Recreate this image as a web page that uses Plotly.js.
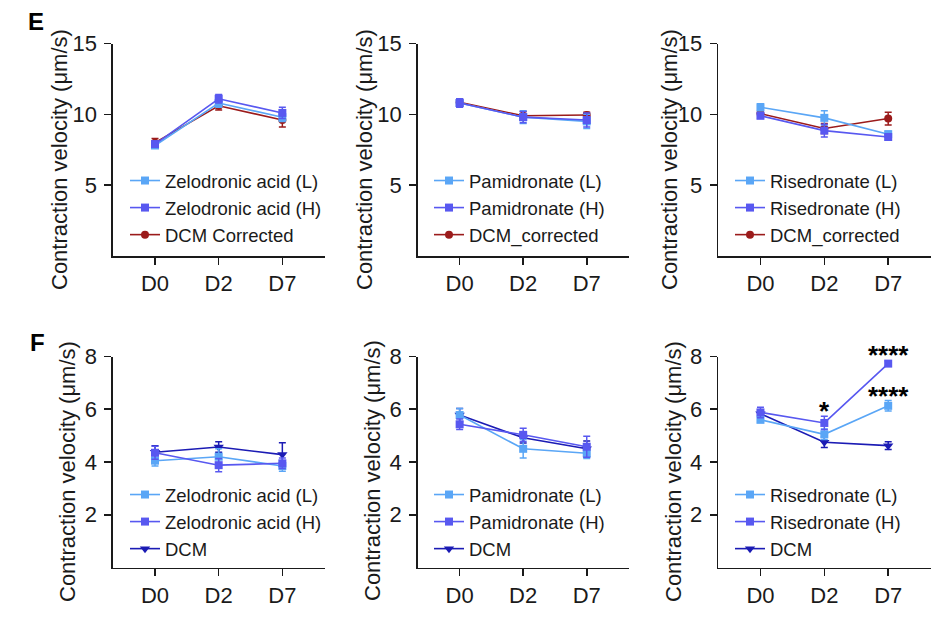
<!DOCTYPE html>
<html>
<head>
<meta charset="utf-8">
<script src="https://cdn.plot.ly/plotly-3.0.1.min.js"></script>
<style>html,body{margin:0;padding:0;background:#fff;}#chart{width:948px;height:620px;}</style>
</head>
<body>
<div id="chart"></div>
<script>
// ---------- data ----------
const days = ["D0", "D2", "D7"];

// Panel E (top row) – corrected values
const eZelL = [7.8, 10.8, 9.8];      const eZelLErr = [0.2, 0.3, 0.3];
const eZelH = [7.9, 11.1, 10.1];     const eZelHErr = [0.2, 0.3, 0.4];
const eZelDCM = [8.0, 10.6, 9.6];    const eZelDCMErr = [0.3, 0.3, 0.5];

const ePamL = [10.8, 9.8, 9.5];      const ePamLErr = [0.3, 0.45, 0.5];
const ePamH = [10.8, 9.8, 9.6];      const ePamHErr = [0.3, 0.4, 0.5];
const ePamDCM = [10.85, 9.9, 9.95];  const ePamDCMErr = [0.25, 0.3, 0.2];

const eRisL = [10.5, 9.75, 8.6];     const eRisLErr = [0.25, 0.5, 0.2];
const eRisH = [9.9, 8.85, 8.4];      const eRisHErr = [0.2, 0.45, 0.2];
const eRisDCM = [10.05, 9.0, 9.7];   const eRisDCMErr = [0.2, 0.35, 0.45];

// Panel F (bottom row)
const fZelL = [4.05, 4.2, 3.85];     const fZelLErr = [0.2, 0.3, 0.2];
const fZelH = [4.35, 3.88, 3.95];    const fZelHErr = [0.25, 0.25, 0.2];
const fZelDCM = [4.37, 4.57, 4.28];  const fZelDCMErr = [0.25, 0.2, 0.45];

const fPamL = [5.78, 4.5, 4.33];     const fPamLErr = [0.25, 0.35, 0.2];
const fPamH = [5.43, 5.03, 4.58];    const fPamHErr = [0.2, 0.25, 0.4];
const fPamDCM = [5.78, 4.92, 4.5];   const fPamDCMErr = [0.25, 0.2, 0.3];

const fRisL = [5.6, 5.05, 6.13];     const fRisLErr = [0.1, 0.2, 0.2];
const fRisH = [5.88, 5.48, 7.73];    const fRisHErr = [0.2, 0.25, 0.1];
const fRisDCM = [5.83, 4.75, 4.62];  const fRisDCMErr = [0.15, 0.2, 0.15];

const topTicks = [5, 10, 15];
const bottomTicks = [2, 4, 6, 8];
const yTitle = "Contraction velocity (μm/s)";

// significance marks (F, Risedronate)
const sigText = ["*", "****", "****"];
const sigDay = ["D2", "D7", "D7"];
const sigY = [5.95, 8.05, 6.51];

// ---------- styling ----------
const FONT = "Liberation Sans, Arial, Helvetica, sans-serif";
const cLight = "#5aa6f6";
const cMid = "#5858f0";
const cRed = "#9b1b1b";
const cNavy = "#1b1bb4";

function tr(name, y, err, color, symbol, n, rank, msize) {
  const ax = n === 1 ? "" : String(n);
  return {
    type: "scatter", mode: "lines+markers",
    x: days, y: y, name: name,
    xaxis: "x" + ax, yaxis: "y" + ax,
    legend: "legend" + ax, legendrank: rank, legendgroup: "g" + n + "_" + rank,
    line: {color: color, width: 1.6},
    marker: {color: color, symbol: symbol, size: msize},
    error_y: {type: "data", array: err, color: color, thickness: 1.5, width: 3.5},
    cliponaxis: false
  };
}

const panels = [
  {n: 1, names: ["Zelodronic acid (L)", "Zelodronic acid (H)", "DCM Corrected"], L: eZelL, Le: eZelLErr, H: eZelH, He: eZelHErr, D: eZelDCM, De: eZelDCMErr, dc: cRed, ds: "circle"},
  {n: 2, names: ["Pamidronate (L)", "Pamidronate (H)", "DCM_corrected"], L: ePamL, Le: ePamLErr, H: ePamH, He: ePamHErr, D: ePamDCM, De: ePamDCMErr, dc: cRed, ds: "circle"},
  {n: 3, names: ["Risedronate (L)", "Risedronate (H)", "DCM_corrected"], L: eRisL, Le: eRisLErr, H: eRisH, He: eRisHErr, D: eRisDCM, De: eRisDCMErr, dc: cRed, ds: "circle"},
  {n: 4, names: ["Zelodronic acid (L)", "Zelodronic acid (H)", "DCM"], L: fZelL, Le: fZelLErr, H: fZelH, He: fZelHErr, D: fZelDCM, De: fZelDCMErr, dc: cNavy, ds: "triangle-down"},
  {n: 5, names: ["Pamidronate (L)", "Pamidronate (H)", "DCM"], L: fPamL, Le: fPamLErr, H: fPamH, He: fPamHErr, D: fPamDCM, De: fPamDCMErr, dc: cNavy, ds: "triangle-down"},
  {n: 6, names: ["Risedronate (L)", "Risedronate (H)", "DCM"], L: fRisL, Le: fRisLErr, H: fRisH, He: fRisHErr, D: fRisDCM, De: fRisDCMErr, dc: cNavy, ds: "triangle-down"}
];

const data = [];
panels.forEach(p => {
  data.push(tr(p.names[2], p.D, p.De, p.dc, p.ds, p.n, 3, p.ds === "circle" ? 8 : 9));
  data.push(tr(p.names[0], p.L, p.Le, cLight, "square", p.n, 1, 8));
  data.push(tr(p.names[1], p.H, p.He, cMid, "square", p.n, 2, 8));
});

const W = 948, H = 620;
const xDom = [[113, 325], [417.7, 629.3], [718.3, 931]];
const yDomTop = [43.5, 256];
const yDomBot = [356.5, 567.5];
const titlePos = [[59, 160], [364, 160], [669, 160], [68, 472], [372, 471], [674, 472]];

const layout = {
  width: W, height: H,
  margin: {l: 0, r: 0, t: 0, b: 0},
  paper_bgcolor: "#fff", plot_bgcolor: "#fff",
  font: {family: FONT, color: "#1a1a1a", size: 20},
  showlegend: true,
  annotations: []
};

for (let n = 1; n <= 6; n++) {
  const ax = n === 1 ? "" : String(n);
  const col = (n - 1) % 3;
  const top = n <= 3;
  const yd = top ? yDomTop : yDomBot;
  layout["xaxis" + ax] = {
    domain: [xDom[col][0] / W, xDom[col][1] / W],
    anchor: "y" + ax,
    type: "category",
    range: [-0.66, 2.67],
    showline: true, linecolor: "#1a1a1a", linewidth: 1.6,
    ticks: "outside", ticklen: 7, tickwidth: 1.6, tickcolor: "#1a1a1a",
    showgrid: false, zeroline: false,
    tickfont: {family: FONT, size: 22, color: "#1a1a1a"},
    fixedrange: true
  };
  layout["yaxis" + ax] = {
    domain: [1 - yd[1] / H, 1 - yd[0] / H],
    anchor: "x" + ax,
    range: top ? [0, 15] : [0, 8],
    tickvals: top ? topTicks : bottomTicks,
    showline: true, linecolor: "#1a1a1a", linewidth: 1.6,
    ticks: "outside", ticklen: 7, tickwidth: 1.6, tickcolor: "#1a1a1a",
    showgrid: false, zeroline: false,
    tickfont: {family: FONT, size: 22, color: "#1a1a1a"},
    ticklabelstandoff: 3,
    fixedrange: true
  };
  const lx = [125, 429, 730][col];
  const ly = top ? 162 : 476;
  layout["legend" + ax] = {
    x: lx / W, y: 1 - ly / H, xanchor: "left", yanchor: "top",
    bgcolor: "rgba(0,0,0,0)", borderwidth: 0,
    font: {family: FONT, size: 18.5, color: "#1a1a1a"},
    traceorder: "grouped", tracegroupgap: 0,
    itemwidth: 30
  };
  layout.annotations.push({
    text: yTitle, xref: "paper", yref: "paper",
    x: titlePos[n - 1][0] / W, y: 1 - titlePos[n - 1][1] / H,
    xanchor: "center", yanchor: "middle", textangle: -90, showarrow: false,
    font: {family: FONT, size: 22, color: "#1a1a1a"}
  });
}

// panel letters
layout.annotations.push({text: "<b>E</b>", xref: "paper", yref: "paper", x: 26 / W, y: 1 - 21.5 / H, xanchor: "left", yanchor: "middle", showarrow: false, font: {family: FONT, size: 24, color: "#000"}});
layout.annotations.push({text: "<b>F</b>", xref: "paper", yref: "paper", x: 28 / W, y: 1 - 342.5 / H, xanchor: "left", yanchor: "middle", showarrow: false, font: {family: FONT, size: 24, color: "#000"}});

// significance stars (y given in data units, mapped onto the axis domain so marks above the range still show)
const yMax6 = 8;
for (let i = 0; i < sigText.length; i++) {
  layout.annotations.push({text: "<b>" + sigText[i] + "</b>", x: sigDay[i], y: sigY[i] / yMax6, xref: "x6", yref: "y6 domain", showarrow: false, xanchor: "center", yanchor: "middle", font: {family: FONT, size: 26, color: "#000"}});
}

Plotly.newPlot("chart", data, layout, {staticPlot: true, displayModeBar: false});
</script>
</body>
</html>
